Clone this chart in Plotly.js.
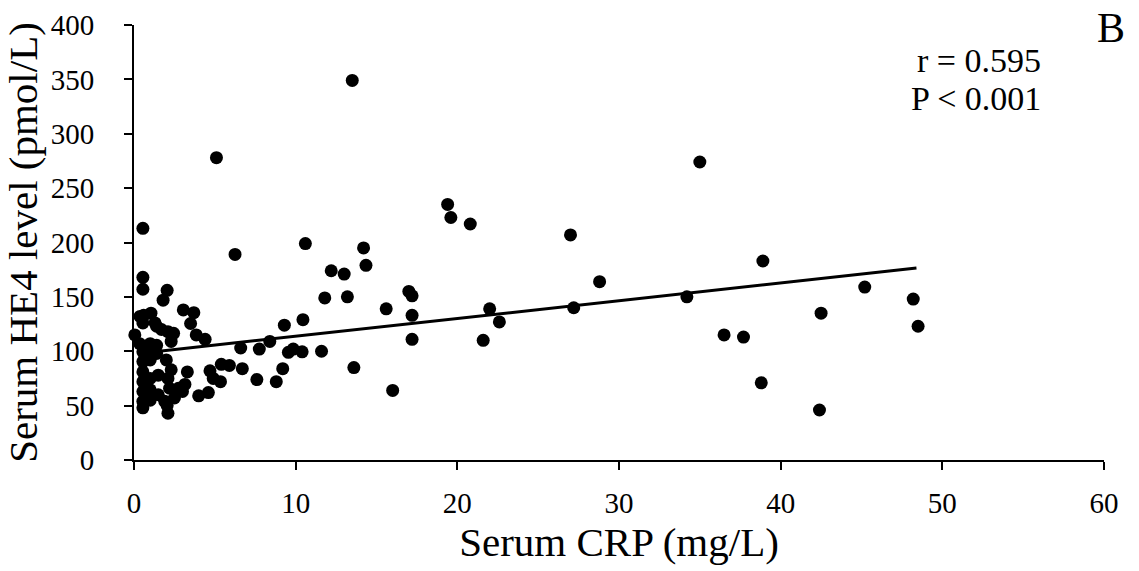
<!DOCTYPE html>
<html>
<head>
<meta charset="utf-8">
<script src="https://cdn.plot.ly/plotly-3.0.1.min.js"></script>
<style>html,body{margin:0;padding:0;background:#fff;}#chart{width:1139px;height:571px;}</style>
</head>
<body>
<div id="chart"></div>
<script>
// Serum CRP (mg/L)
const crp = [
  35.0, 13.5, 5.1, 19.4, 19.6, 20.8, 27.0, 38.9, 28.8, 22.0,
  22.6, 21.6, 27.2, 34.2, 45.2, 48.2, 48.5, 42.5, 36.5, 37.7,
  38.8, 42.4, 6.25, 10.6, 14.2, 14.35, 12.2, 13.0, 11.8, 13.2,
  15.6, 17.0, 17.2, 17.2, 17.2, 10.45, 9.3, 8.4, 6.6, 7.75,
  9.55, 9.85, 10.4, 11.6, 5.9, 6.7, 9.2, 13.6, 7.6, 8.8,
  16.0, 3.05, 3.7, 3.5, 3.85, 4.4, 3.3, 3.15, 3.0, 4.7,
  4.9, 5.35, 5.4, 4.0, 4.6, 2.85, 0.55, 0.55, 0.55, 2.05,
  1.8, 0.6, 1.05, 0.05, 0.55, 1.3, 1.7, 2.1, 2.45, 0.35,
  1.0, 1.4, 2.3, 0.55, 0.55, 0.55, 0.55, 0.55, 0.55, 0.55,
  1.0, 1.0, 1.0, 1.0, 1.0, 1.4, 1.5, 2.0, 2.1, 2.3,
  2.2, 1.9, 2.1, 2.5, 2.75, 1.5, 0.37, 1.4, 2.05
];
// Serum HE4 level (pmol/L)
const he4 = [
  274, 349, 278, 235, 223, 217, 207, 183, 164, 139,
  127, 110, 140, 150, 159, 148, 123, 135, 115, 113,
  71, 46, 189, 199, 195, 179, 174, 171, 149, 150,
  139, 155, 151, 133, 111, 129, 124, 109, 103, 102,
  99, 102, 99.5, 100, 87, 84, 84, 85, 74, 72,
  64, 138, 135.5, 125.5, 115, 111, 81, 69.5, 63, 82,
  75, 72, 88, 59, 62, 66, 213, 168, 157, 156,
  147, 133, 135, 115, 126, 126, 120, 118, 116.5, 107,
  107, 105.5, 109, 99.5, 90.5, 81, 72, 63, 54, 48,
  101, 92, 75, 64.5, 55, 98, 78, 92, 75, 83,
  66, 54, 43, 57, 66, 60, 132, 123, 50
];
// regression line end points
const fitX = [0.3, 48.4];
const fitY = [98, 176.5];

const xTicks = [0, 10, 20, 30, 40, 50, 60];
const yTicks = [0, 50, 100, 150, 200, 250, 300, 350, 400];
const xTitle = 'Serum CRP (mg/L)';
const yTitle = 'Serum HE4 level (pmol/L)';
const statR = 'r = 0.595';
const statP = 'P < 0.001';
const panel = 'B';

const font = 'Liberation Serif, Times New Roman, serif';

const traces = [
  {
    x: crp, y: he4, type: 'scatter', mode: 'markers',
    marker: {color: '#000', size: 13},
    cliponaxis: false, hoverinfo: 'x+y', showlegend: false
  },
  {
    x: fitX, y: fitY, type: 'scatter', mode: 'lines',
    line: {color: '#000', width: 3},
    cliponaxis: false, showlegend: false
  }
];

const layout = {
  width: 1139, height: 571,
  margin: {l: 134, r: 35, t: 25, b: 111},
  paper_bgcolor: '#fff', plot_bgcolor: '#fff',
  font: {family: font, color: '#000'},
  showlegend: false,
  xaxis: {
    range: [0, 60], tickvals: xTicks, ticktext: xTicks.map(String),
    showgrid: false, zeroline: false,
    showline: true, linecolor: '#000', linewidth: 2,
    ticks: 'outside', ticklen: 8, tickwidth: 2, tickcolor: '#000',
    tickfont: {size: 29, family: font, color: '#000'},
    ticklabelstandoff: 8,
    title: {text: xTitle, font: {size: 41, family: font, color: '#000'}, standoff: 6},
    automargin: false, fixedrange: true
  },
  yaxis: {
    range: [0, 400], tickvals: yTicks, ticktext: yTicks.map(String),
    showgrid: false, zeroline: false,
    showline: true, linecolor: '#000', linewidth: 2,
    ticks: 'outside', ticklen: 8, tickwidth: 2, tickcolor: '#000',
    tickfont: {size: 29, family: font, color: '#000'},
    ticklabelstandoff: 24,
    title: {text: yTitle, font: {size: 41, family: font, color: '#000'}, standoff: 4},
    automargin: false, fixedrange: true
  },
  annotations: [
    {xref: 'paper', yref: 'paper', x: 0.937, y: 0.918, xanchor: 'right', yanchor: 'middle',
     text: statR, showarrow: false, font: {size: 34, family: font, color: '#000'}},
    {xref: 'paper', yref: 'paper', x: 0.937, y: 0.83, xanchor: 'right', yanchor: 'middle',
     text: statP, showarrow: false, font: {size: 34, family: font, color: '#000'}},
    {xref: 'paper', yref: 'paper', x: 1.024, y: 0.993, xanchor: 'right', yanchor: 'middle',
     text: panel, showarrow: false, font: {size: 42, family: font, color: '#000'}}
  ]
};

Plotly.newPlot('chart', traces, layout, {displayModeBar: false, staticPlot: true});
</script>
</body>
</html>
